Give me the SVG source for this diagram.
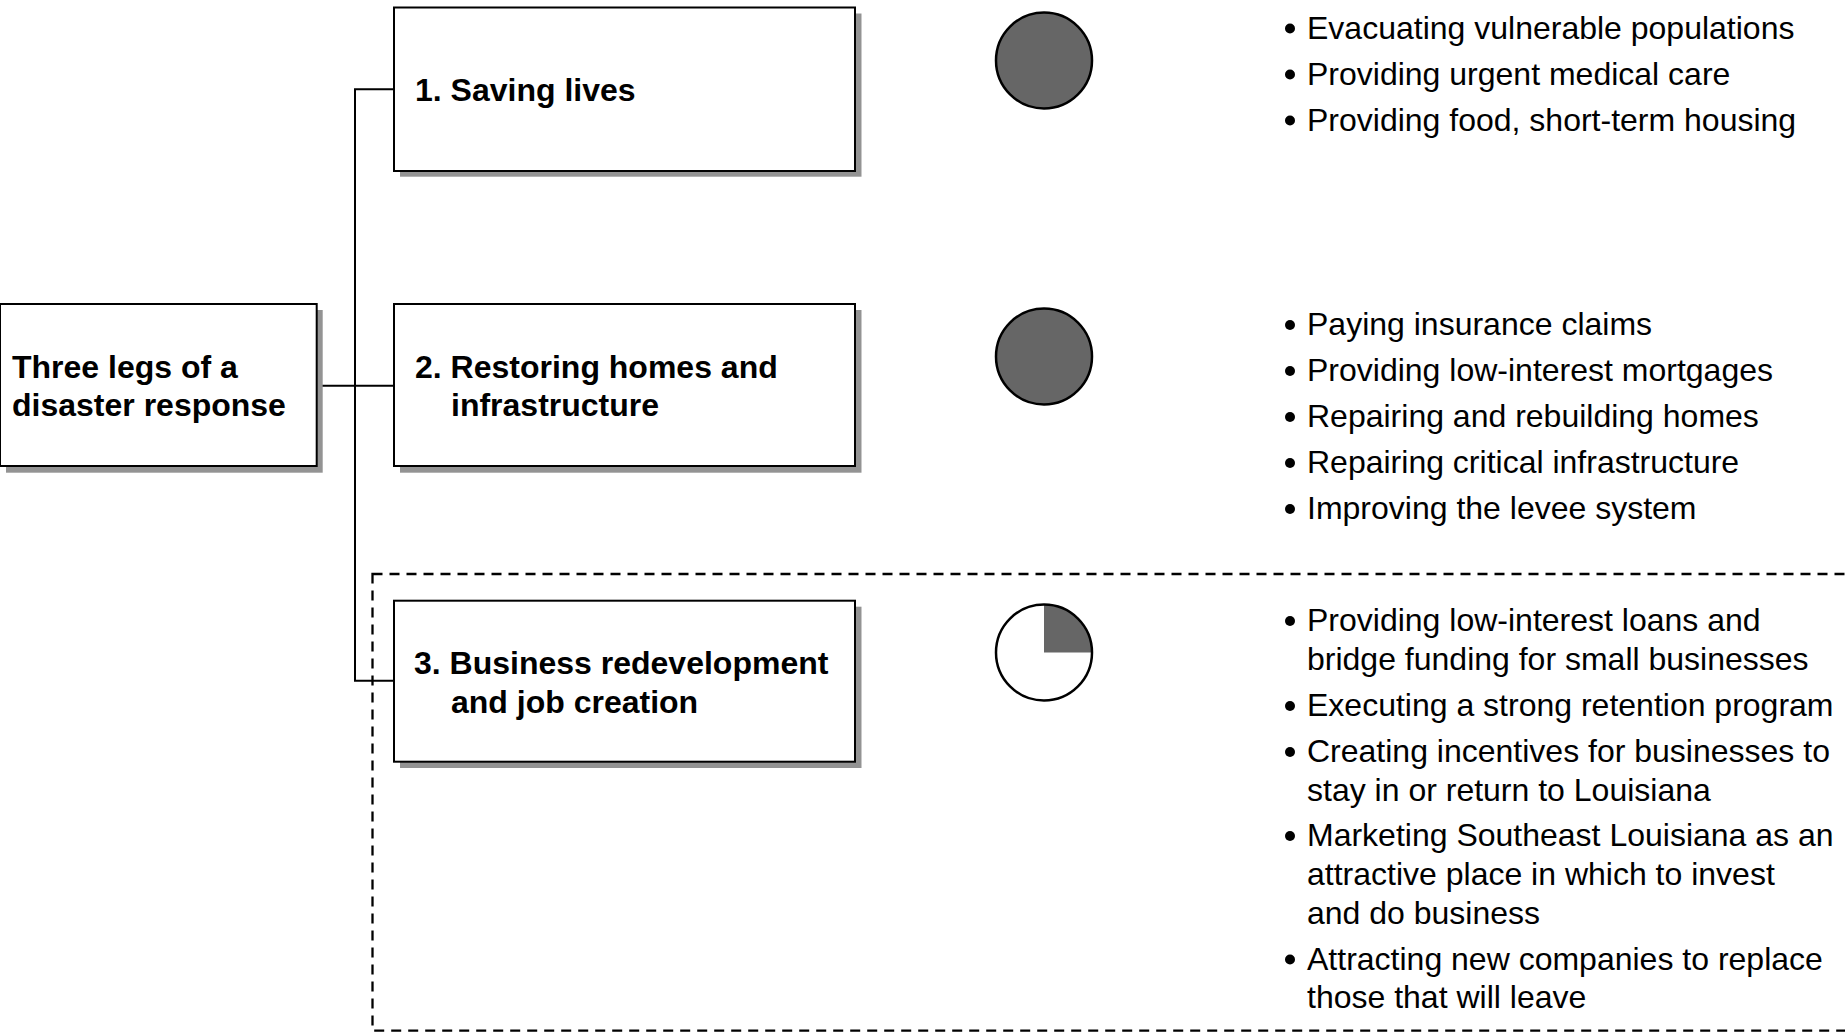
<svg xmlns="http://www.w3.org/2000/svg" width="1845" height="1032" viewBox="0 0 1845 1032">
<style>
.box{fill:#fff;stroke:#000;stroke-width:2}
.shadow{fill:#939393}
.lbl{font-family:"Liberation Sans",Arial,sans-serif;font-size:32px;font-weight:bold;fill:#000}
.item{font-family:"Liberation Sans",Arial,sans-serif;font-size:32px;fill:#000}
.conn{fill:none;stroke:#000;stroke-width:2}
.dash{fill:none;stroke:#000;stroke-width:2.3;stroke-dasharray:10 7}
.ball{stroke:#000;stroke-width:2.5;fill:#666}
.dot{fill:#000}
</style>
<rect width="1845" height="1032" fill="#fff"/>
<rect id="focus-area" class="dash" x="372.5" y="574" width="1520" height="456.7"/>
<g id="connectors">
<path class="conn" d="M316.7,385.7 H394"/>
<path class="conn" d="M394,89.3 H355 V680.7 H394"/>
</g>
<g id="node-root">
<rect class="shadow" x="6" y="310" width="316.7" height="162.7"/>
<rect class="box" x="0" y="304" width="316.7" height="162"/>
<text class="lbl" x="12" y="377.5">Three legs of a</text>
<text class="lbl" x="12" y="416">disaster response</text>
</g>
<g id="node-1">
<rect class="shadow" x="400" y="13.5" width="461.5" height="163.2"/>
<rect class="box" x="394" y="7.5" width="461" height="163.5"/>
<text class="lbl" x="415" y="101">1. Saving lives</text>
</g>
<g id="node-2">
<rect class="shadow" x="400" y="310" width="461.5" height="162.7"/>
<rect class="box" x="394" y="304" width="461" height="162"/>
<text class="lbl" x="415" y="377.5">2. Restoring homes and</text>
<text class="lbl" x="451" y="416">infrastructure</text>
</g>
<g id="node-3">
<rect class="shadow" x="400" y="606.7" width="461.5" height="161.3"/>
<rect class="box" x="394" y="600.7" width="461" height="161"/>
<text class="lbl" x="414" y="673.5">3. Business redevelopment</text>
<text class="lbl" x="451" y="712.5">and job creation</text>
</g>
<g id="ball-1">
<circle class="ball" cx="1044" cy="60.5" r="48"/>
</g>
<g id="ball-2">
<circle class="ball" cx="1044" cy="356.5" r="48"/>
</g>
<g id="ball-3">
<path d="M1044,652.5 V604.5 A48,48 0 0 1 1092,652.5 Z" fill="#666"/>
<circle cx="1044" cy="652.5" r="48" fill="none" stroke="#000" stroke-width="2.5"/>
</g>
<g id="list-1">
<circle class="dot" cx="1290" cy="28.5" r="5"/>
<circle class="dot" cx="1290" cy="74.5" r="5"/>
<circle class="dot" cx="1290" cy="120.5" r="5"/>
<text class="item" x="1307" y="38.5">Evacuating vulnerable populations</text>
<text class="item" x="1307" y="84.5">Providing urgent medical care</text>
<text class="item" x="1307" y="130.5">Providing food, short-term housing</text>
</g>
<g id="list-2">
<circle class="dot" cx="1290" cy="325" r="5"/>
<circle class="dot" cx="1290" cy="371" r="5"/>
<circle class="dot" cx="1290" cy="417" r="5"/>
<circle class="dot" cx="1290" cy="463" r="5"/>
<circle class="dot" cx="1290" cy="509" r="5"/>
<text class="item" x="1307" y="335">Paying insurance claims</text>
<text class="item" x="1307" y="381">Providing low-interest mortgages</text>
<text class="item" x="1307" y="427">Repairing and rebuilding homes</text>
<text class="item" x="1307" y="473">Repairing critical infrastructure</text>
<text class="item" x="1307" y="519">Improving the levee system</text>
</g>
<g id="list-3">
<circle class="dot" cx="1290" cy="621" r="5"/>
<circle class="dot" cx="1290" cy="706" r="5"/>
<circle class="dot" cx="1290" cy="752" r="5"/>
<circle class="dot" cx="1290" cy="836" r="5"/>
<circle class="dot" cx="1290" cy="959.5" r="5"/>
<text class="item" x="1307" y="631">Providing low-interest loans and</text>
<text class="item" x="1307" y="670">bridge funding for small businesses</text>
<text class="item" x="1307" y="716">Executing a strong retention program</text>
<text class="item" x="1307" y="762">Creating incentives for businesses to</text>
<text class="item" x="1307" y="801">stay in or return to Louisiana</text>
<text class="item" x="1307" y="846">Marketing Southeast Louisiana as an</text>
<text class="item" x="1307" y="885">attractive place in which to invest</text>
<text class="item" x="1307" y="923.5">and do business</text>
<text class="item" x="1307" y="969.5">Attracting new companies to replace</text>
<text class="item" x="1307" y="1008">those that will leave</text>
</g>
</svg>
